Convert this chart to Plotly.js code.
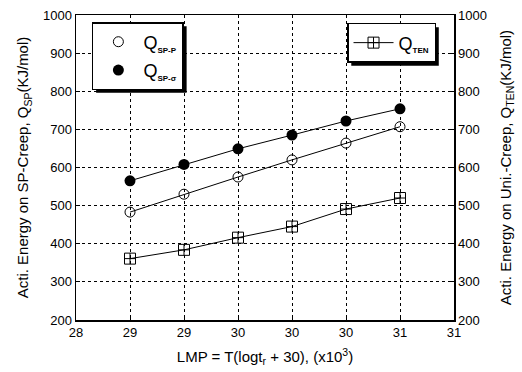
<!DOCTYPE html>
<html><head><meta charset="utf-8">
<script src="https://cdn.plot.ly/plotly-3.0.1.min.js"></script>
<style>body{margin:0;background:#fff}#c{width:522px;height:372px}</style>
</head><body><div id="c"></div>
<script>
const lmp = [28.5, 29.0, 29.5, 30.0, 30.5, 31.0];
const qSpP = [483, 530, 575, 620, 664, 707];
const qSpSigma = [565, 608, 649, 685, 722, 754];
const qTen = [361, 384, 416, 445, 491, 520];
const xTickVals = [28, 28.5, 29, 29.5, 30, 30.5, 31, 31.5];
const xTickText = ['28', '29', '29', '30', '30', '30', '31', '31'];
const yTickVals = [200, 300, 400, 500, 600, 700, 800, 900, 1000];

const F = 'Liberation Sans, Arial, sans-serif';
const sub = s => '<sub><span style="font-size:8px;font-weight:bold">' + s + '</span></sub>';
const traces = [
  {x: lmp, y: qSpP, mode: 'lines', line: {color: '#000', width: 1}, showlegend: false, hoverinfo: 'skip'},
  {x: lmp, y: qSpSigma, mode: 'lines', line: {color: '#000', width: 1}, showlegend: false, hoverinfo: 'skip'},
  {x: lmp, y: qSpP, mode: 'markers', name: 'Q' + sub('SP-P'), legend: 'legend', legendgroup: 'a',
   marker: {symbol: 'circle-open', size: 10, color: '#000', line: {width: 1, color: '#444'}}},
  {x: lmp, y: qSpSigma, mode: 'markers', name: 'Q' + sub('SP-σ'), legend: 'legend', legendgroup: 'b',
   marker: {symbol: 'circle', size: 11, color: '#000'}},
  {x: lmp, y: qTen, mode: 'lines+markers', name: 'Q' + sub('TEN'), legend: 'legend2', yaxis: 'y2',
   line: {color: '#000', width: 1},
   marker: {symbol: 'square-cross-open', size: 11, color: '#000', line: {width: 1}}}
];

const ax = {
  showline: true, linecolor: '#000', linewidth: 1.5, mirror: false,
  ticks: 'inside', ticklen: 4, tickcolor: '#000',
  showgrid: true, gridcolor: '#000', griddash: 'dot', gridwidth: 1,
  zeroline: false, tickfont: {family: F, size: 13, color: '#000'}
};

const layout = {
  width: 522, height: 372,
  margin: {l: 76, r: 68, t: 15, b: 52},
  paper_bgcolor: '#fff', plot_bgcolor: '#fff',
  font: {family: F, color: '#000'},
  xaxis: Object.assign({}, ax, {range: [28, 31.5], tickvals: xTickVals, ticktext: xTickText, mirror: true,
    title: {text: 'LMP = T(logt<sub>r</sub> + 30), (x10<sup>3</sup>)', font: {family: F, size: 15}, standoff: 12}}),
  yaxis: Object.assign({}, ax, {range: [200, 1000], tickvals: yTickVals,
    title: {text: 'Acti. Energy on SP-Creep, Q<sub>SP</sub>(KJ/mol)', font: {family: F, size: 15}, standoff: 10}}),
  yaxis2: Object.assign({}, ax, {range: [200, 1000], tickvals: yTickVals, overlaying: 'y', side: 'right', showgrid: false,
    title: {text: 'Acti. Energy on Uni.-Creep, Q<sub>TEN</sub>(KJ/mol)', font: {family: F, size: 15}, standoff: 14}}),
  legend: {x: 0.042, y: 0.977, xanchor: 'left', yanchor: 'top', bgcolor: '#fff', bordercolor: '#000', borderwidth: 1.5,
    font: {family: F, size: 18, color: '#000'}, tracegroupgap: 2, traceorder: 'grouped', itemwidth: 40},
  legend2: {x: 0.717, y: 0.974, xanchor: 'left', yanchor: 'top', bgcolor: '#fff', bordercolor: '#000', borderwidth: 1.5,
    font: {family: F, size: 18, color: '#000'}, itemwidth: 40}
};

Plotly.newPlot('c', traces, layout, {staticPlot: true}).then(gd => {
  const box = gd.getBoundingClientRect();
  const fs = gd._fullLayout._size;
  const shapes = [];
  ['legend', 'legend2'].forEach(cls => {
    const bg = gd.querySelector('g.' + cls + ' rect.bg');
    if (!bg) return;
    const r = bg.getBoundingClientRect();
    const d = 3.5;
    const l = r.left - box.left + d, t = r.top - box.top + d;
    const rr = r.right - box.left + d, b = r.bottom - box.top + d;
    shapes.push({type: 'rect', xref: 'paper', yref: 'paper',
      x0: (l - fs.l) / fs.w, x1: (rr - fs.l) / fs.w,
      y0: 1 - (b - fs.t) / fs.h, y1: 1 - (t - fs.t) / fs.h,
      fillcolor: '#000', line: {width: 0}, layer: 'above'});
  });
  return Plotly.relayout(gd, {shapes: shapes});
});
</script></body></html>
